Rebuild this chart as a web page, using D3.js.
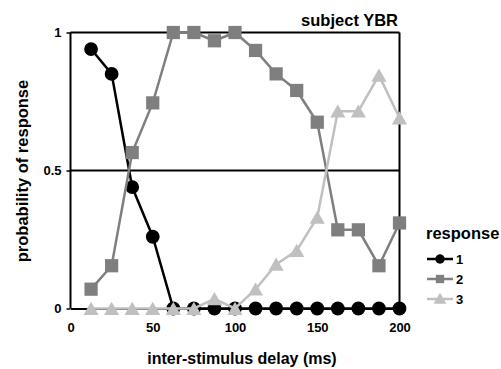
<!DOCTYPE html>
<html><head><meta charset="utf-8">
<script src="https://cdn.jsdelivr.net/npm/d3@7"></script>
<style>body{margin:0;background:#fff}svg{display:block;font-family:"Liberation Sans",Arial,sans-serif}</style>
</head><body><svg id="c" width="501" height="369"></svg>
<script>
const delays = [12.5,25,37.5,50,62.5,75,87.5,100,112.5,125,137.5,150,162.5,175,187.5,200];
const resp1 = [0.94,0.85,0.44,0.26,0,0,0,0,0,0,0,0,0,0,0,0];
const resp2 = [0.07,0.155,0.565,0.745,1,1,0.97,1,0.935,0.85,0.79,0.675,0.285,0.285,0.155,0.31];
const resp3 = [0,0,0,0,0,0,0.035,0,0.07,0.16,0.21,0.33,0.715,0.715,0.845,0.69];
const seriesNames = ["1","2","3"];
const xTicks = [0,50,100,150,200];
const yTicks = [0,0.5,1];
const yTickLabels = ["0","0.5","1"];

const svg = d3.select("#c");
const x = d3.scaleLinear().domain([0,200]).range([70.5,399.5]);
const y = d3.scaleLinear().domain([0,1]).range([308.5,32.5]);
const colors = ["#000","#7f7f7f","#c0c0c0"];
const symbols = [d3.symbolCircle, d3.symbolSquare, d3.symbolTriangle];
const sizes = [150, 175, 100];

const g = svg.append("g");
g.selectAll("line.h").data([0.5,1]).enter().append("line")
  .attr("x1",x(0)).attr("x2",x(200)).attr("y1",d=>y(d)).attr("y2",d=>y(d))
  .attr("stroke","#000").attr("stroke-width",2);
g.append("line").attr("x1",x(200)).attr("x2",x(200)).attr("y1",y(0)).attr("y2",y(1))
  .attr("stroke","#000").attr("stroke-width",2);

const xAxis = d3.axisBottom(x).tickValues(xTicks).tickSize(0).tickPadding(14);
const xg = svg.append("g").attr("transform",`translate(0,${y(0)})`).call(xAxis);
xg.select(".domain").attr("stroke","#000").attr("stroke-width",2);
xg.selectAll("text").attr("font-size",13).attr("font-weight","bold").attr("fill","#000");

const yAxis = d3.axisLeft(y).tickValues(yTicks).tickSize(4).tickPadding(5).tickFormat((d,i)=>yTickLabels[i]);
const yg = svg.append("g").attr("transform",`translate(${x(0)},0)`).call(yAxis);
yg.select(".domain").attr("stroke","#000").attr("stroke-width",2).attr("d",`M0,${y(0)}V${y(1)}`);
yg.selectAll(".tick line").attr("stroke","#000").attr("stroke-width",1.5);
yg.selectAll("text").attr("font-size",13).attr("font-weight","bold").attr("fill","#000");

const allSeries = [resp1,resp2,resp3];
const line = d3.line().x(d=>x(d[0])).y(d=>y(d[1]));
allSeries.forEach((vals,i)=>{
  const pts = delays.map((d,j)=>[d,vals[j]]);
  svg.append("path").datum(pts).attr("d",line).attr("fill","none")
    .attr("stroke",colors[i]).attr("stroke-width",2.5);
  svg.append("g").selectAll("path").data(pts).enter().append("path")
    .attr("d",d3.symbol().type(symbols[i]).size(sizes[i]))
    .attr("transform",d=>`translate(${x(d[0])},${y(d[1]) + (i===2?2:0)})`)
    .attr("fill",colors[i]);
});

svg.append("text").attr("x",398).attr("y",26).attr("text-anchor","end")
  .attr("font-size",16.5).attr("font-weight","bold").text("subject YBR");
svg.append("text").attr("x",242).attr("y",364).attr("text-anchor","middle")
  .attr("font-size",16).attr("font-weight","bold").text("inter-stimulus delay (ms)");
svg.append("text").attr("transform","translate(28,171) rotate(-90)").attr("text-anchor","middle")
  .attr("font-size",16.5).attr("font-weight","bold").text("probability of response");

const lg = svg.append("g");
lg.append("text").attr("x",426).attr("y",239).attr("font-size",16.5).attr("font-weight","bold").text("response");
seriesNames.forEach((n,i)=>{
  const yy = 259 + i*20;
  lg.append("line").attr("x1",427).attr("x2",453).attr("y1",yy).attr("y2",yy)
    .attr("stroke",colors[i]).attr("stroke-width",2.5);
  lg.append("path").attr("d",d3.symbol().type(symbols[i]).size(70))
    .attr("transform",`translate(440,${yy + (i===2?1:0)})`).attr("fill",colors[i]);
  lg.append("text").attr("x",456).attr("y",yy+5).attr("font-size",13).attr("font-weight","bold").text(n);
});
</script></body></html>
